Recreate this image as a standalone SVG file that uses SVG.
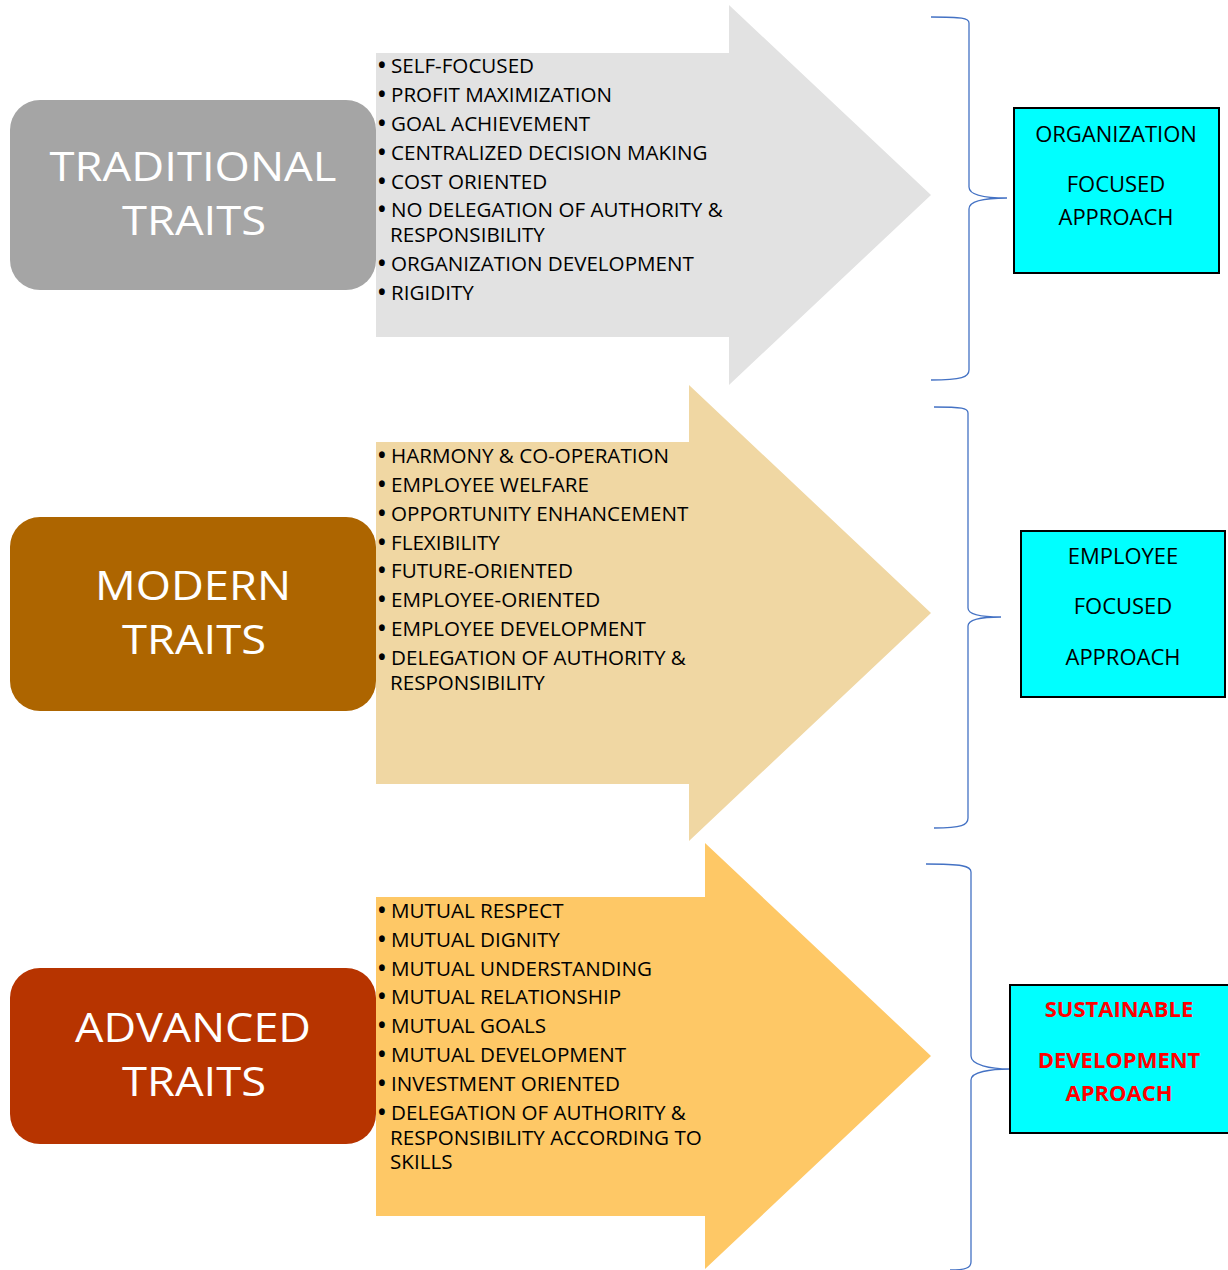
<svg xmlns="http://www.w3.org/2000/svg" width="1228" height="1270" viewBox="0 0 1228 1270">
<style>
.li{font-family:"Open Sans","Liberation Sans",sans-serif;font-size:20.6px;fill:#000}
.bu{font-weight:bold}
.ti{font-family:"Open Sans","Liberation Sans",sans-serif;font-size:40px;fill:#fff;text-anchor:middle}
.bx{font-family:"Open Sans","Liberation Sans",sans-serif;font-size:22px;fill:#000;text-anchor:middle}
.bxr{font-family:"Open Sans","Liberation Sans",sans-serif;font-size:22px;font-weight:bold;fill:#f00;text-anchor:middle}
.box{fill:#00ffff;stroke:#000;stroke-width:2}
.brace{fill:none;stroke:#4472c4;stroke-width:1.3}
</style>
<rect width="1228" height="1270" fill="#fff"/>

<g id="arrow-traditional">
<polygon points="376,53 729,53 729,5 931,195 729,385 729,337 376,337" fill="#e2e2e2"/>
<text class="li"><tspan class="bu" x="378" y="73">•</tspan><tspan x="391">SELF-FOCUSED</tspan></text>
<text class="li"><tspan class="bu" x="378" y="102">•</tspan><tspan x="391">PROFIT MAXIMIZATION</tspan></text>
<text class="li"><tspan class="bu" x="378" y="131">•</tspan><tspan x="391">GOAL ACHIEVEMENT</tspan></text>
<text class="li"><tspan class="bu" x="378" y="160">•</tspan><tspan x="391">CENTRALIZED DECISION MAKING</tspan></text>
<text class="li"><tspan class="bu" x="378" y="189">•</tspan><tspan x="391">COST ORIENTED</tspan></text>
<text class="li"><tspan class="bu" x="378" y="217">•</tspan><tspan x="391">NO DELEGATION OF AUTHORITY &amp;</tspan></text>
<text class="li" x="390" y="242">RESPONSIBILITY</text>
<text class="li"><tspan class="bu" x="378" y="271">•</tspan><tspan x="391">ORGANIZATION DEVELOPMENT</tspan></text>
<text class="li"><tspan class="bu" x="378" y="300">•</tspan><tspan x="391">RIGIDITY</tspan></text>
</g>

<g id="arrow-modern">
<polygon points="376,442 689,442 689,385 931,613 689,841 689,784 376,784" fill="#f0d7a3"/>
<text class="li"><tspan class="bu" x="378" y="463">•</tspan><tspan x="391">HARMONY &amp; CO-OPERATION</tspan></text>
<text class="li"><tspan class="bu" x="378" y="492">•</tspan><tspan x="391">EMPLOYEE WELFARE</tspan></text>
<text class="li"><tspan class="bu" x="378" y="521">•</tspan><tspan x="391">OPPORTUNITY ENHANCEMENT</tspan></text>
<text class="li"><tspan class="bu" x="378" y="550">•</tspan><tspan x="391">FLEXIBILITY</tspan></text>
<text class="li"><tspan class="bu" x="378" y="578">•</tspan><tspan x="391">FUTURE-ORIENTED</tspan></text>
<text class="li"><tspan class="bu" x="378" y="607">•</tspan><tspan x="391">EMPLOYEE-ORIENTED</tspan></text>
<text class="li"><tspan class="bu" x="378" y="636">•</tspan><tspan x="391">EMPLOYEE DEVELOPMENT</tspan></text>
<text class="li"><tspan class="bu" x="378" y="665">•</tspan><tspan x="391">DELEGATION OF AUTHORITY &amp;</tspan></text>
<text class="li" x="390" y="690">RESPONSIBILITY</text>
</g>

<g id="arrow-advanced">
<polygon points="376,897 705,897 705,843 931,1056 705,1269 705,1216 376,1216" fill="#fec866"/>
<text class="li"><tspan class="bu" x="378" y="918">•</tspan><tspan x="391">MUTUAL RESPECT</tspan></text>
<text class="li"><tspan class="bu" x="378" y="947">•</tspan><tspan x="391">MUTUAL DIGNITY</tspan></text>
<text class="li"><tspan class="bu" x="378" y="976">•</tspan><tspan x="391">MUTUAL UNDERSTANDING</tspan></text>
<text class="li"><tspan class="bu" x="378" y="1004">•</tspan><tspan x="391">MUTUAL RELATIONSHIP</tspan></text>
<text class="li"><tspan class="bu" x="378" y="1033">•</tspan><tspan x="391">MUTUAL GOALS</tspan></text>
<text class="li"><tspan class="bu" x="378" y="1062">•</tspan><tspan x="391">MUTUAL DEVELOPMENT</tspan></text>
<text class="li"><tspan class="bu" x="378" y="1091">•</tspan><tspan x="391">INVESTMENT ORIENTED</tspan></text>
<text class="li"><tspan class="bu" x="378" y="1120">•</tspan><tspan x="391">DELEGATION OF AUTHORITY &amp;</tspan></text>
<text class="li" x="390" y="1145">RESPONSIBILITY ACCORDING TO</text>
<text class="li" x="390" y="1169">SKILLS</text>
</g>

<g id="traditional-traits">
<rect x="10" y="100" width="366" height="190" rx="30" fill="#a5a5a5"/>
<text class="ti" x="193" y="181" textLength="287" lengthAdjust="spacingAndGlyphs">TRADITIONAL</text>
<text class="ti" x="194" y="235" textLength="144" lengthAdjust="spacingAndGlyphs">TRAITS</text>
</g>

<g id="modern-traits">
<rect x="10" y="517" width="366" height="194" rx="30" fill="#ad6500"/>
<text class="ti" x="193" y="600" textLength="196" lengthAdjust="spacingAndGlyphs">MODERN</text>
<text class="ti" x="194" y="654" textLength="144" lengthAdjust="spacingAndGlyphs">TRAITS</text>
</g>

<g id="advanced-traits">
<rect x="10" y="968" width="366" height="176" rx="30" fill="#b73400"/>
<text class="ti" x="193" y="1042" textLength="236" lengthAdjust="spacingAndGlyphs">ADVANCED</text>
<text class="ti" x="194" y="1096" textLength="144" lengthAdjust="spacingAndGlyphs">TRAITS</text>
</g>

<g id="connectors">
<path class="brace" d="M931,17 C962,17 969,18 969,23 L969,187 C969,196 990,198 1007,198 C990,198 969,200 969,209 L969,370 C969,377 962,380 931,380"/>
<path class="brace" d="M934,407 C962,407 968,408 968,413 L968,608 C968,615 985,617 1001,617 C985,617 968,619 968,626 L968,818 C968,825 962,828 934,828"/>
<path class="brace" d="M926,864 C962,864 971,866 971,872 L971,1056 C971,1065 990,1069 1010,1069 C990,1069 971,1072 971,1080 L971,1262 C971,1268 965,1270 950,1270"/>
</g>

<g id="organization-focused">
<rect class="box" x="1014" y="108" width="205" height="165"/>
<text class="bx" x="1116" y="142">ORGANIZATION</text>
<text class="bx" x="1116" y="192">FOCUSED</text>
<text class="bx" x="1116" y="225">APPROACH</text>
</g>

<g id="employee-focused">
<rect class="box" x="1021" y="531" width="204" height="166"/>
<text class="bx" x="1123" y="564">EMPLOYEE</text>
<text class="bx" x="1123" y="614">FOCUSED</text>
<text class="bx" x="1123" y="665">APPROACH</text>
</g>

<g id="sustainable-development">
<rect class="box" x="1010" y="985" width="222" height="148"/>
<text class="bxr" x="1119" y="1017">SUSTAINABLE</text>
<text class="bxr" x="1119" y="1068">DEVELOPMENT</text>
<text class="bxr" x="1119" y="1101">APROACH</text>
</g>
</svg>
